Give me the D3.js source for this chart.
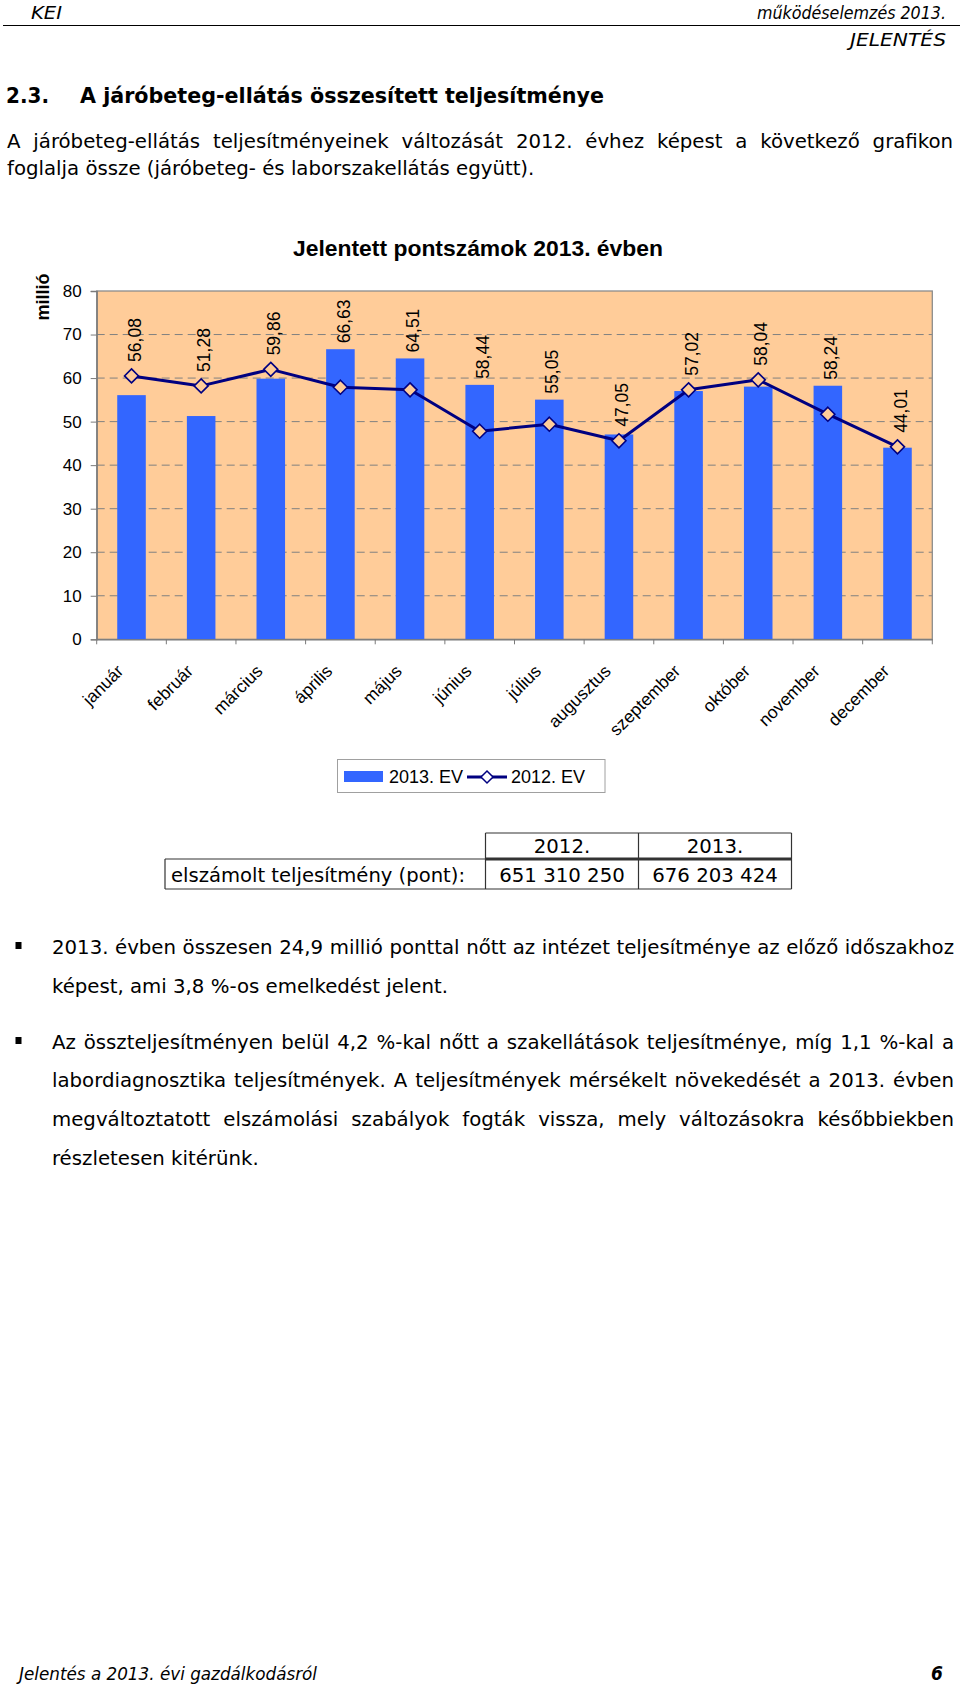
<!DOCTYPE html>
<html><head><meta charset="utf-8">
<script src="https://cdn.jsdelivr.net/npm/d3@7"></script>
<style>body{margin:0;background:#fff}svg{display:block}</style>
</head><body>
<svg id="page" width="960" height="1688"></svg>
<script>
// ---------- data ----------
const months = ["január","február","március","április","május","június","július","augusztus","szeptember","október","november","december"];
const values2013 = [56.08,51.28,59.86,66.63,64.51,58.44,55.05,47.05,57.02,58.04,58.24,44.01];
const values2012 = [60.5,58.2,62.0,57.9,57.3,47.8,49.4,45.6,57.3,59.6,51.7,44.2];
const yTicks = [0,10,20,30,40,50,60,70,80];
const chartTitle = "Jelentett pontszámok 2013. évben";
const yTitle = "millió";
const legendLabels = ["2013. EV","2012. EV"];
const tableHeader = ["2012.","2013."];
const tableRowLabel = "elszámolt teljesítmény (pont):";
const tableValues = ["651 310 250","676 203 424"];

(function(){
// ---------- page setup ----------
const svg = d3.select("#page");
svg.append("rect").attr("width",960).attr("height",1688).attr("fill","#fff");
const BODY = "'DejaVu Sans Condensed','DejaVu Sans',sans-serif";
const CH = "'Liberation Sans',Arial,sans-serif";

function natural(txt, size, weight, style, fam){
  const t = svg.append("text").attr("font-family",fam||BODY).attr("font-size",size)
    .attr("font-weight",weight||"normal").attr("font-style",style||"normal").text(txt);
  const w = t.node().getComputedTextLength(); t.remove(); return w;
}
function fitText(txt,x,y,width,opt){
  opt = opt||{};
  const t = svg.append("text").attr("x",x).attr("y",y)
    .attr("font-family",opt.fam||BODY).attr("font-size",opt.size||20)
    .attr("font-weight",opt.weight||"normal").attr("font-style",opt.style||"normal")
    .attr("fill","#000").attr("text-anchor",opt.anchor||"start").text(txt);
  if(width){ t.attr("textLength",width).attr("lengthAdjust","spacingAndGlyphs"); }
  return t;
}
const SX = 396 / natural("képest, ami 3,8 %-os emelkedést jelent.",20);
function plainLine(txt,x,y,opt){
  opt=opt||{};
  const w = natural(txt,opt.size||20,opt.weight,opt.style)*SX;
  return fitText(txt,x,y,w,opt);
}
function justifyLine(txt,x0,x1,y,opt){
  opt=opt||{};
  const words = txt.split(/\s+/);
  const ws = words.map(w=>natural(w,opt.size||20,opt.weight,opt.style)*SX);
  const sum = d3.sum(ws);
  const gap = (x1-x0-sum)/(words.length-1);
  let cx = x0;
  words.forEach((w,i)=>{ fitText(w,cx,y,ws[i],opt); cx += ws[i]+gap; });
}

// ---------- header ----------
fitText("KEI",31,19,31,{size:18,style:"italic"});
fitText("működéselemzés 2013.",946,19,189,{size:18,style:"italic",anchor:"end"});
svg.append("line").attr("x1",3).attr("x2",960).attr("y1",25.5).attr("y2",25.5).attr("stroke","#000").attr("stroke-width",1.2);
fitText("JELENTÉS",946,46,96,{size:18,style:"italic",anchor:"end"});

fitText("2.3.",6,103,43,{size:21,weight:"bold"});
fitText("A járóbeteg-ellátás összesített teljesítménye",80,103,524,{size:21,weight:"bold"});
justifyLine("A járóbeteg-ellátás teljesítményeinek változását 2012. évhez képest a következő grafikon",7,953,148);
plainLine("foglalja össze (járóbeteg- és laborszakellátás együtt).",7,175);

// ---------- chart ----------
const pL=96.7, pR=932.3, pT=291, pB=639.3;
const x = d3.scaleBand().domain(months).range([pL,pR]).padding(0);
const y = d3.scaleLinear().domain([0,80]).range([pB,pT]);
const g = svg.append("g");

g.append("text").attr("x",478).attr("y",256).attr("text-anchor","middle")
  .attr("font-family",CH).attr("font-size",21.5).attr("font-weight","bold")
  .attr("textLength",370).attr("lengthAdjust","spacingAndGlyphs").text(chartTitle);

g.append("rect").attr("x",pL).attr("y",pT).attr("width",pR-pL).attr("height",pB-pT)
  .attr("fill","#FFCC99");
g.selectAll("line.grid").data(yTicks.filter(d=>d>0&&d<80)).join("line")
  .attr("x1",pL).attr("x2",pR).attr("y1",d=>y(d)).attr("y2",d=>y(d))
  .attr("stroke","#808080").attr("stroke-width",1).attr("stroke-dasharray","8,5");
g.append("rect").attr("x",pL).attr("y",pT).attr("width",pR-pL).attr("height",pB-pT)
  .attr("fill","none").attr("stroke","#8c8c8c").attr("stroke-width",1.3);

const bw = x.bandwidth()*0.41;
g.selectAll("rect.bar").data(values2013).join("rect")
  .attr("x",(d,i)=>x(months[i])+x.bandwidth()/2-bw/2)
  .attr("y",d=>y(d)).attr("width",bw).attr("height",d=>y(0)-y(d)).attr("fill","#3366FF");

const ya = g.append("g").attr("transform",`translate(${pL},0)`)
  .call(d3.axisLeft(y).tickValues(yTicks).tickSize(6).tickPadding(9).tickFormat(d3.format("d")));
ya.select(".domain").attr("stroke","#7a7a7a").attr("stroke-width",1.3);
ya.selectAll(".tick line").attr("stroke","#7a7a7a");
ya.selectAll(".tick text").attr("font-family",CH).attr("font-size",17).attr("fill","#000");

g.append("text").attr("transform",`translate(49,297) rotate(-90)`).attr("text-anchor","middle")
  .attr("font-family",CH).attr("font-size",18).attr("font-weight","bold").text(yTitle);

const xa = g.append("g").attr("transform",`translate(0,${pB})`)
  .call(d3.axisBottom(x).tickSize(0).tickFormat(""));
xa.select(".domain").attr("stroke","#7a7a7a").attr("stroke-width",1.3);
g.selectAll("line.xt").data(months.concat(["__end"])).join("line")
  .attr("x1",(d,i)=>i<months.length?x(d):pR).attr("x2",(d,i)=>i<months.length?x(d):pR)
  .attr("y1",pB).attr("y2",pB+5).attr("stroke","#7a7a7a").attr("stroke-width",1);
g.selectAll("text.xl").data(months).join("text")
  .attr("transform",d=>`translate(${x(d)+x.bandwidth()/2-16},${pB+24}) rotate(-45)`)
  .attr("text-anchor","end").attr("dy","0.72em")
  .attr("font-family",CH).attr("font-size",17.5).text(d=>d);

const cx = (i)=>x(months[i])+x.bandwidth()/2;
const line = d3.line().x((d,i)=>cx(i)).y(d=>y(d));
g.append("path").datum(values2012).attr("d",line).attr("fill","none")
  .attr("stroke","#000080").attr("stroke-width",3).attr("stroke-linejoin","round");
const r=7;
const diamond = `M0,${-r}L${r},0L0,${r}L${-r},0Z`;
g.selectAll("path.mk").data(values2012).join("path")
  .attr("d",diamond).attr("transform",(d,i)=>`translate(${cx(i)},${y(d)})`)
  .attr("fill","#FFCC99").attr("stroke","#000080").attr("stroke-width",1.6);

const fmt = d=>d.toFixed(2).replace(".",",");
g.selectAll("text.dl").data(values2013).join("text")
  .attr("transform",(d,i)=>`translate(${cx(i)+3},${Math.min(y(d)-6,y(values2012[i])-14)}) rotate(-90)`)
  .attr("dy","0.35em").attr("text-anchor","start")
  .attr("font-family",CH).attr("font-size",17.5).text(fmt);

const lg = g.append("g");
lg.append("rect").attr("x",337.5).attr("y",759.5).attr("width",267.5).attr("height",33)
  .attr("fill","#fff").attr("stroke","#a0a0a0").attr("stroke-width",1);
lg.append("rect").attr("x",344).attr("y",771).attr("width",39).attr("height",11).attr("fill","#3366FF");
lg.append("text").attr("x",389).attr("y",776.5).attr("dy","0.35em").attr("font-family",CH).attr("font-size",18).text(legendLabels[0]);
lg.append("line").attr("x1",467).attr("x2",507).attr("y1",777).attr("y2",777).attr("stroke","#000080").attr("stroke-width",3);
lg.append("path").attr("d",`M0,-6L6,0L0,6L-6,0Z`).attr("transform","translate(487,777)")
  .attr("fill","#fff").attr("stroke","#000080").attr("stroke-width",1.5);
lg.append("text").attr("x",511).attr("y",776.5).attr("dy","0.35em").attr("font-family",CH).attr("font-size",18).text(legendLabels[1]);

// ---------- table ----------
const tb = svg.append("g");
const cols = [165,485.5,638.5,791.5];
const rowsY = [833,859,889];
const ls = (x1,y1,x2,y2,w)=>tb.append("line").attr("x1",x1).attr("y1",y1).attr("x2",x2).attr("y2",y2).attr("stroke","#333").attr("stroke-width",w||1.2);
ls(cols[1],rowsY[0],cols[3],rowsY[0]);
ls(cols[1],rowsY[0],cols[1],rowsY[2]);
ls(cols[2],rowsY[0],cols[2],rowsY[2]);
ls(cols[3],rowsY[0],cols[3],rowsY[2]);
ls(cols[0],rowsY[1],cols[1],rowsY[1]);
ls(cols[1],rowsY[1],cols[3],rowsY[1],3);
ls(cols[0],rowsY[1],cols[0],rowsY[2]);
ls(cols[0],rowsY[2],cols[3],rowsY[2]);
tableHeader.forEach((h,i)=>{
  const c=(cols[i+1]+cols[i+2])/2;
  fitText(h,c,853,natural(h,20)*SX,{anchor:"middle"});
});
tableValues.forEach((v,i)=>{
  const c=(cols[i+1]+cols[i+2])/2;
  fitText(v,c,882,natural(v,20)*SX,{anchor:"middle"});
});
fitText(tableRowLabel,171,882,294);

// ---------- bullets ----------
const bullets=[
  ["2013. évben összesen 24,9 millió ponttal nőtt az intézet teljesítménye az előző időszakhoz","képest, ami 3,8 %-os emelkedést jelent."],
  ["Az összteljesítményen belül 4,2 %-kal nőtt a szakellátások teljesítménye, míg 1,1 %-kal  a","labordiagnosztika teljesítmények. A teljesítmények mérsékelt növekedését a 2013. évben","megváltoztatott elszámolási szabályok fogták vissza, mely változásokra későbbiekben","részletesen kitérünk."]
];
const lineYs=[[954,993],[1049,1087,1126,1165]];
bullets.forEach((lines,bi)=>{
  svg.append("rect").attr("x",15.5).attr("y",lineYs[bi][0]-12).attr("width",6).attr("height",7).attr("fill","#000");
  lines.forEach((t,li)=>{
    const yy=lineYs[bi][li];
    if(li<lines.length-1) justifyLine(t,52,954,yy); else plainLine(t,52,yy);
  });
});

// ---------- footer ----------
fitText("Jelentés a 2013. évi gazdálkodásról",19,1680,298,{size:18,style:"italic"});
fitText("6",943,1680,null,{size:19,style:"italic",weight:"bold",anchor:"end"});
})();
</script>
</body></html>
